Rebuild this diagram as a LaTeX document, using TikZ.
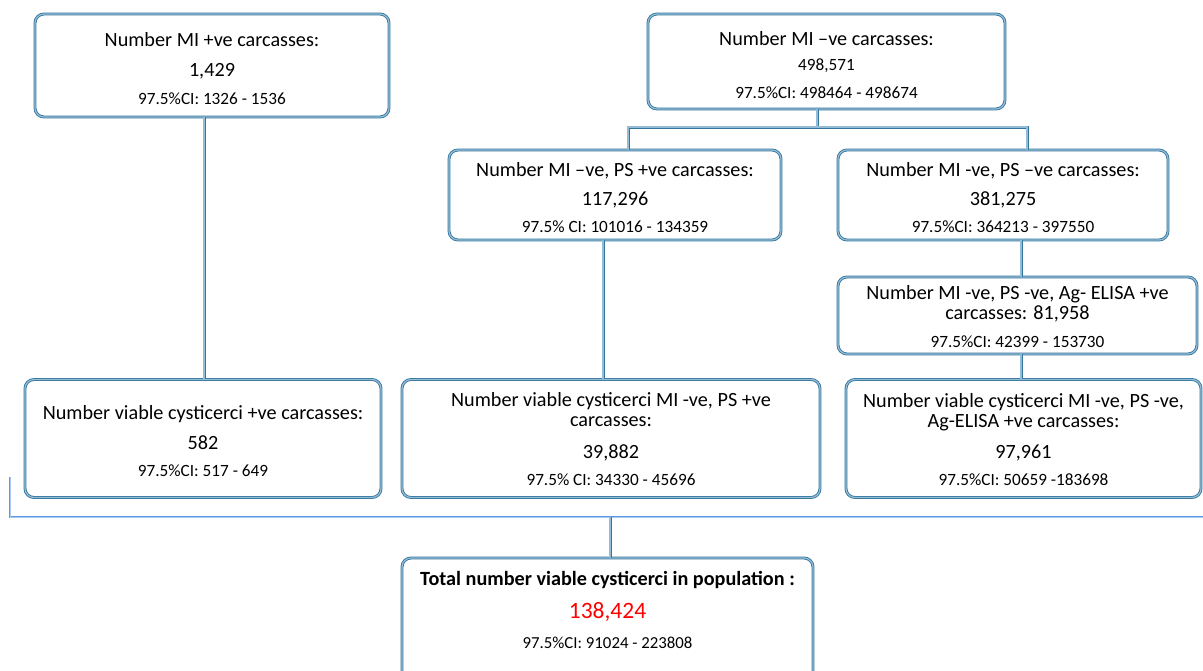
\documentclass[tikz,border=0pt]{standalone}
\usepackage{fontspec}
\setmainfont{Carlito}
\definecolor{boxblue}{HTML}{33769C}
\definecolor{boxmid}{HTML}{94BCD6}
\definecolor{brkblue}{HTML}{5F98E4}
\definecolor{brkmid}{HTML}{A9C9F3}
\newcommand\fm{\fontsize{20.2}{20}\selectfont}
\newcommand\fc{\fontsize{17.2}{17}\selectfont}
\newcommand\fct{\fontsize{16.8}{17}\selectfont}
\newcommand\fr{\fontsize{23.5}{24}\selectfont\color{red}}
\newcommand\tst[1]{\rule{0pt}{#1pt}}
\tikzset{
  box/.style={draw=boxblue, double=boxmid, line width=0.85pt, double distance=1.2pt,
    rounded corners=9pt, align=center, inner sep=0pt, font=\fm, fill=white},
  conn/.style={draw=boxblue, double=boxmid, line width=0.9pt, double distance=1.2pt},
  brk/.style={draw=brkblue, double=brkmid, line width=0.75pt, double distance=1pt},
}
\begin{document}
\begin{tikzpicture}[x=1pt,y=-1pt]
\useasboundingbox (0,0) rectangle (1203,670);
% boxes
\node[box, minimum width=354, minimum height=103] (A) at (212,65.5)
  {\tst{20}Number MI +ve carcasses:\\[10pt]1,429\\[7.5pt]{\fc 97.5\%CI: 1326 - 1536}};
\node[box, minimum width=357, minimum height=95] (B) at (826.5,61.5)
  {\tst{21}Number MI –ve carcasses:\\[5.5pt]{\fc 498,571}\\[8pt]{\fc 97.5\%CI: 498464 - 498674}};
\node[box, minimum width=332, minimum height=90] (C) at (615,195)
  {\tst{19}Number MI –ve, PS +ve carcasses:\\[9.3pt]117,296\\[6.8pt]{\fc 97.5\% CI: 101016 - 134359}};
\node[box, minimum width=330, minimum height=90] (D) at (1003,195)
  {\tst{19}Number MI -ve, PS –ve carcasses:\\[9.3pt]381,275\\[6.8pt]{\fc 97.5\%CI: 364213 - 397550}};
\node[box, minimum width=359, minimum height=77] (E) at (1017.5,315.5)
  {\tst{16}Number MI -ve, PS -ve, Ag- ELISA +ve\\carcasses: 81,958\\[8.5pt]{\fc 97.5\%CI: 42399 - 153730}};
\node[box, minimum width=356, minimum height=118] (F) at (203,438.5)
  {\tst{19}Number viable cysticerci +ve carcasses:\\[10pt]582\\[7.8pt]{\fc 97.5\%CI: 517 - 649}};
\node[box, minimum width=418, minimum height=118] (G) at (611,438.5)
  {\tst{15}Number viable cysticerci MI -ve, PS +ve\\carcasses:\\[11.7pt]39,882\\[6.8pt]{\fc 97.5\% CI: 34330 - 45696}};
\node[box, minimum width=355, minimum height=118] (H) at (1023.5,438.5)
  {\tst{16}Number viable cysticerci MI -ve, PS -ve,\\Ag-ELISA +ve carcasses:\\[11.7pt]97,961\\[6.8pt]{\fc 97.5\%CI: 50659 -183698}};
\node[box, minimum width=411, minimum height=124] (T) at (607.5,620) {};
\node[align=center, inner sep=0pt, font=\fm] (Tt) at (607.5,610)
  {\textbf{Total number viable cysticerci in population :}\\[12.7pt]{\fr 138,424}\\[9.7pt]{\fct 97.5\%CI: 91024 - 223808}};
% junction coordinates
\coordinate (jA) at (204,0);
\coordinate (jB) at (817,127);
\coordinate (jC) at (628,127);
\coordinate (jD) at (1027,127);
\coordinate (jG) at (603,0);
\coordinate (jE) at (1021,0);
\coordinate (bl) at (10,477);
\coordinate (bc) at (10,517);
\coordinate (br) at (1203,517);
\coordinate (bt) at (610,517);
% connectors
\draw[conn] (A.south -| jA) -- (F.north -| jA);
\draw[conn] (B.south -| jB) -- (jB);
\draw[conn] (C.north -| jC) -- (jC) -- (jD) -- (D.north -| jD);
\draw[conn] (C.south -| jG) -- (G.north -| jG);
\draw[conn] (D.south -| jE) -- (E.north -| jE);
\draw[conn] (E.south -| jE) -- (H.north -| jE);
\draw[brk] (bl) -- (bc) -- (br);
\draw[conn] (bt) -- (T.north -| bt);
\end{tikzpicture}
\end{document}
